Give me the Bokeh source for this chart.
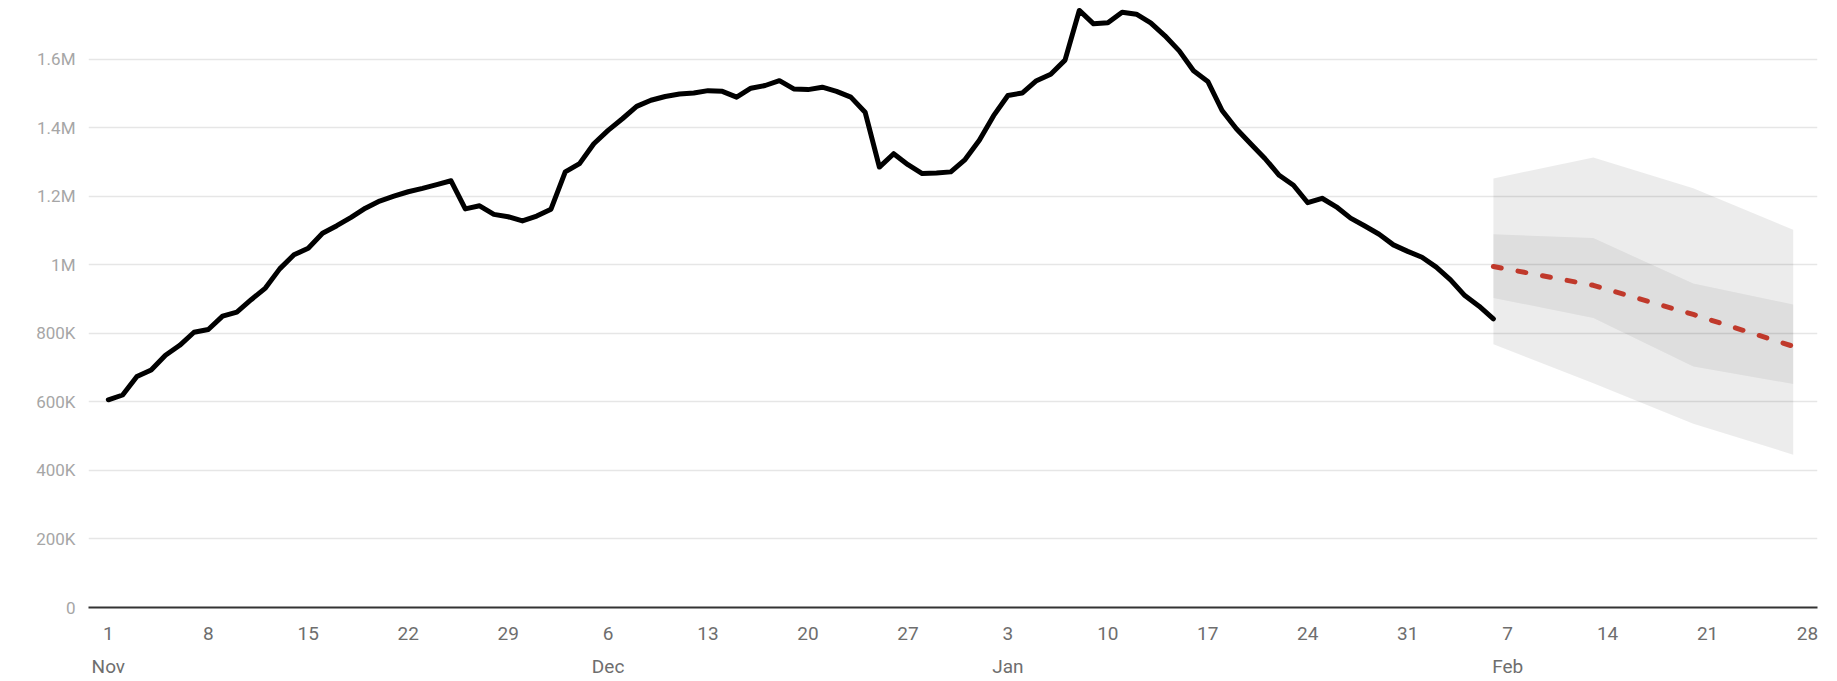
import pandas as pd
from bokeh.plotting import figure
from bokeh.models import Range1d, FixedTicker, LinearAxis
from bokeh.embed import file_html
from bokeh.resources import INLINE

# ---- data ----
start_date = "2020-11-01"
daily_values = [
    606000, 620000, 674000, 693000, 736000, 765000, 803000, 811000, 850000, 862000,
    898000, 932000, 988000, 1029000, 1048000, 1092000, 1114000, 1138000, 1165000, 1186000,
    1200000, 1213000, 1223000, 1234000, 1245000, 1163000, 1172000, 1147000, 1140000, 1128000,
    1142000, 1162000, 1271000, 1295000, 1353000, 1392000, 1426000, 1462000, 1480000, 1491000,
    1498000, 1501000, 1508000, 1506000, 1489000, 1515000, 1523000, 1537000, 1513000, 1511000,
    1518000, 1506000, 1489000, 1445000, 1285000, 1324000, 1292000, 1266000, 1268000, 1271000,
    1307000, 1363000, 1435000, 1494000, 1501000, 1537000, 1556000, 1597000, 1742000, 1703000,
    1706000, 1737000, 1731000, 1706000, 1668000, 1624000, 1566000, 1535000, 1450000, 1397000,
    1353000, 1310000, 1261000, 1232000, 1181000, 1194000, 1169000, 1136000, 1113000, 1089000,
    1058000, 1039000, 1022000, 993000, 956000, 910000, 879000, 842000,
]
forecast_dates = ["2021-02-06", "2021-02-13", "2021-02-20", "2021-02-27"]
forecast_mid = [995000, 940000, 855000, 762000]
forecast_inner_hi = [1089000, 1078000, 945000, 884000]
forecast_inner_lo = [903000, 845000, 703000, 652000]
forecast_outer_hi = [1252000, 1313000, 1223000, 1102000]
forecast_outer_lo = [768000, 654000, 536000, 446000]

y_ticks = [0, 200000, 400000, 600000, 800000, 1000000, 1200000, 1400000, 1600000]
y_tick_labels = ["0", "200K", "400K", "600K", "800K", "1M", "1.2M", "1.4M", "1.6M"]
x_tick_dates = ["2020-11-01", "2020-11-08", "2020-11-15", "2020-11-22", "2020-11-29",
                "2020-12-06", "2020-12-13", "2020-12-20", "2020-12-27", "2021-01-03",
                "2021-01-10", "2021-01-17", "2021-01-24", "2021-01-31", "2021-02-07",
                "2021-02-14", "2021-02-21", "2021-02-28"]
x_tick_labels = ["1", "8", "15", "22", "29", "6", "13", "20", "27", "3",
                 "10", "17", "24", "31", "7", "14", "21", "28"]
month_tick_dates = ["2020-11-01", "2020-12-06", "2021-01-03", "2021-02-07"]
month_labels = ["Nov", "Dec", "Jan", "Feb"]

# ---- derived positions (days since start) ----
t0 = pd.Timestamp(start_date)
def day_index(dates):
    return [int((pd.Timestamp(d) - t0).days) for d in dates]

x_daily = list(range(len(daily_values)))
x_fc = day_index(forecast_dates)
x_ticks = day_index(x_tick_dates)
x_month = day_index(month_tick_dates)

tick_text = {t: l for t, l in zip(x_ticks, x_tick_labels)}
for d, m in zip(x_month, month_labels):
    tick_text[d] = tick_text[d] + "\n" + m

p = figure(width=1837, height=681,
           x_range=Range1d(-1.39, 119.7), y_range=Range1d(0, 1771000),
           output_backend="svg", toolbar_location=None,
           min_border_left=88, min_border_right=20, min_border_top=0,
           min_border_bottom=72, x_axis_location=None)
p.outline_line_color = None
p.background_fill_color = "white"
p.xgrid.grid_line_color = None
p.ygrid.grid_line_color = "#e6e6e6"
p.ygrid.grid_line_width = 1.5
p.ygrid.ticker = FixedTicker(ticks=y_ticks)

# y axis
ya = p.yaxis[0]
ya.ticker = FixedTicker(ticks=y_ticks)
ya.major_label_overrides = {t: l for t, l in zip(y_ticks, y_tick_labels)}
ya.axis_line_color = None
ya.major_tick_line_color = None
ya.minor_tick_line_color = None
ya.major_label_standoff = 7
ya.major_label_text_font = "Roboto"
ya.major_label_text_font_size = "17px"
ya.major_label_text_color = "#a6a6a6"

# x axis (day numbers, month name under the first tick of each month)
xa = LinearAxis(ticker=FixedTicker(ticks=x_ticks), major_label_overrides=tick_text)
xa.axis_line_color = "#333333"
xa.axis_line_width = 2
xa.major_tick_line_color = None
xa.minor_tick_line_color = None
xa.major_label_standoff = 8
xa.major_label_text_font = "Roboto"
xa.major_label_text_font_size = "19px"
xa.major_label_text_line_height = 1.47
xa.major_label_text_color = "#6e6e6e"
p.add_layout(xa, "below")

# forecast bands
p.varea(x=x_fc, y1=forecast_outer_lo, y2=forecast_outer_hi,
        fill_color="black", fill_alpha=0.075)
p.varea(x=x_fc, y1=forecast_inner_lo, y2=forecast_inner_hi,
        fill_color="black", fill_alpha=0.06)

# actual line
p.line(x_daily, daily_values, line_color="black", line_width=5,
       line_join="round", line_cap="round")

# forecast mid
p.line(x_fc, forecast_mid, line_color="#c0392b", line_width=5,
       line_dash="8 17", line_cap="round")

open("out.html", "w").write(file_html(p, INLINE))
